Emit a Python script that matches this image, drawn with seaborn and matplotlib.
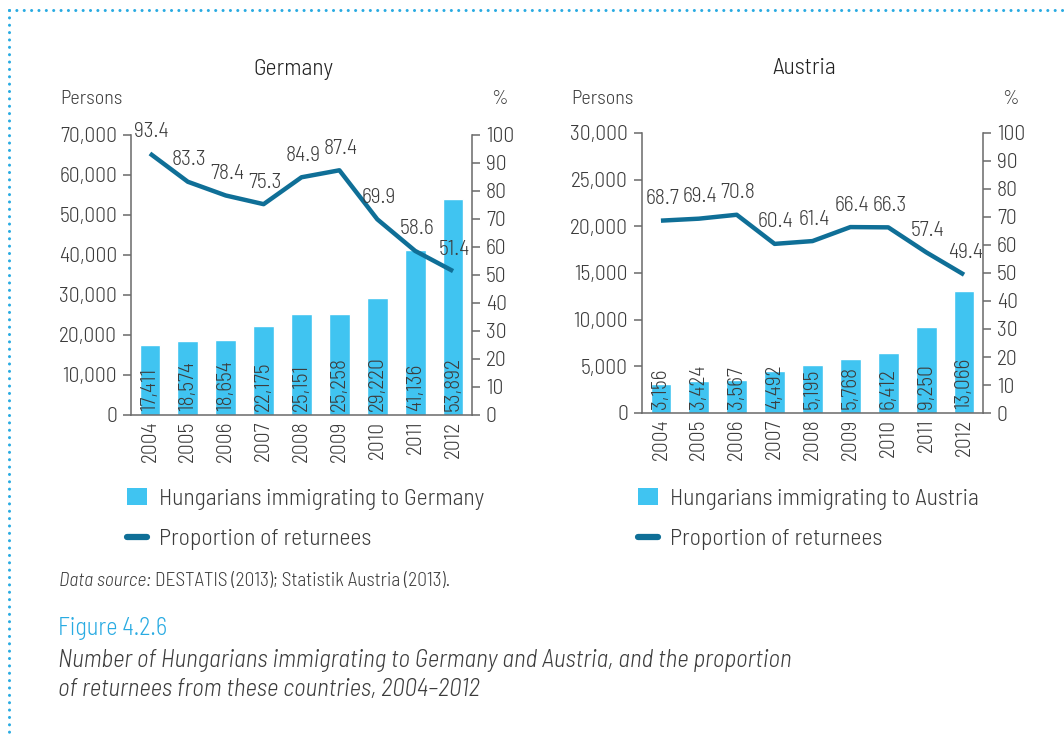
import matplotlib
matplotlib.use("Agg")
import matplotlib.pyplot as plt
from matplotlib.lines import Line2D
from matplotlib.patches import Patch
import numpy as np
import pandas as pd
import seaborn as sns

# ---------------- data ----------------
years = ["2004", "2005", "2006", "2007", "2008", "2009", "2010", "2011", "2012"]
germany_immigrants = [17411, 18574, 18654, 22175, 25151, 25258, 29220, 41136, 53892]
germany_returnees = [93.4, 83.3, 78.4, 75.3, 84.9, 87.4, 69.9, 58.6, 51.4]
austria_immigrants = [3156, 3424, 3567, 4492, 5195, 5768, 6412, 9250, 13066]
austria_returnees = [68.7, 69.4, 70.8, 60.4, 61.4, 66.4, 66.3, 57.4, 49.4]
germany_left_ticks = [0, 10000, 20000, 30000, 40000, 50000, 60000, 70000]
austria_left_ticks = [0, 5000, 10000, 15000, 20000, 25000, 30000]
right_ticks = [0, 10, 20, 30, 40, 50, 60, 70, 80, 90, 100]

# ---------------- style ----------------
sns.set_theme(style="white")
FAM = ["Barlow Semi Condensed", "Roboto Condensed", "Roboto", "DejaVu Sans"]
plt.rcParams["font.family"] = FAM
plt.rcParams["font.weight"] = 300
TXT = "#3c3c3c"
SPINE = "#6a6a6a"
BAR = "#40c4f1"
LINE = "#0f6f97"
BLUE = "#29abe2"

fig = plt.figure(figsize=(10.64, 7.35), dpi=100)
W, H = 1064, 735


def fx(px):
    return px / W


def fy(py):
    return 1 - py / H


def panel(left_px, top_px, bottom_px, title, counts, pct, lticks, country):
    ax = fig.add_axes([fx(left_px), fy(bottom_px), 341 / W, (bottom_px - top_px) / H])
    df = pd.DataFrame({"year": years, "count": counts, "pct": pct})
    sns.barplot(data=df, x="year", y="count", ax=ax, color=BAR, saturation=1,
                width=0.55, zorder=2)
    ax.set_xlim(-0.5, len(years) - 0.5)
    ax.set_ylim(lticks[0], lticks[-1])
    ax.set_yticks(lticks, labels=[f"{t:,}" for t in lticks])
    ax.set_xticks(range(len(years)), labels=years, rotation=90)
    ax.set_xticks(np.arange(-0.5, len(years), 1), minor=True)
    ax.tick_params(axis="x", which="major", length=0, pad=4, labelsize=15.5, colors=TXT)
    ax.tick_params(axis="x", which="minor", length=6, width=1.1, color=SPINE, direction="out")
    ax.tick_params(axis="y", length=6, width=1.1, color=SPINE, direction="out",
                   labelsize=15.5, labelcolor=TXT, left=True, pad=4)
    ax.set_xlabel("")
    ax.set_ylabel("")
    for s in ["top", "right"]:
        ax.spines[s].set_visible(False)
    for s in ["left", "bottom"]:
        ax.spines[s].set_color(SPINE)
        ax.spines[s].set_linewidth(1.1)
    for i, v in enumerate(counts):
        ax.annotate(f"{v:,}", (i, 0), xytext=(0, 3), textcoords="offset points",
                    rotation=90, ha="center", va="bottom", fontsize=15.5, color=TXT, zorder=5)

    ax2 = ax.twinx()
    sns.lineplot(x=np.arange(len(years)), y=pct, ax=ax2, color=LINE, linewidth=3.2,
                 solid_capstyle="butt", zorder=3)
    ax2.set_ylim(0, 100)
    ax2.set_yticks(right_ticks)
    ax2.tick_params(axis="y", length=6, width=1.1, color=SPINE, direction="out",
                    labelsize=15.5, labelcolor=TXT, right=True, pad=4)
    ax2.set_ylabel("")
    for s in ["top", "left", "bottom"]:
        ax2.spines[s].set_visible(False)
    ax2.spines["right"].set_color(SPINE)
    ax2.spines["right"].set_linewidth(1.1)
    for i, p in enumerate(pct):
        ax2.annotate(f"{p}", (i, p), xytext=(1, 9), textcoords="offset points",
                     ha="center", va="bottom", fontsize=15.5, color=TXT)

    ax.text(0.475, 1 + (top_px - 69) / 280, title, transform=ax.transAxes, ha="center",
            va="center", fontsize=17, color="#222222")
    ax.text(-0.208, 1 + (top_px - 99) / 280, "Persons", transform=ax.transAxes, ha="left",
            va="center", fontsize=14.5, color=TXT)
    ax.text(1.08, 1 + (top_px - 99) / 280, "%", transform=ax.transAxes, ha="center",
            va="center", fontsize=14.5, color=TXT)

    handles = [Patch(facecolor=BAR, edgecolor="none"),
               Line2D([], [], color=LINE, linewidth=4.5)]
    labels = [f"Hungarians immigrating to {country}", "Proportion of returnees"]
    fig.legend(handles, labels, loc="upper left",
               bbox_to_anchor=(fx(left_px - 4), fy(488)), frameon=False,
               fontsize=17, labelcolor=TXT, handlelength=0.85, handleheight=0.7,
               handletextpad=0.5, labelspacing=0.8, borderpad=0, borderaxespad=0)
    return ax


panel(131, 135, 415, "Germany", germany_immigrants, germany_returnees,
      germany_left_ticks, "Germany")
panel(642, 133, 413, "Austria", austria_immigrants, austria_returnees,
      austria_left_ticks, "Austria")

# dotted frame
fig.add_artist(Line2D([fx(9), 1.0], [fy(10), fy(10)], transform=fig.transFigure,
                      color=BLUE, linewidth=2.2, linestyle=(0, (0.01, 2.4)),
                      dash_capstyle="round"))
fig.add_artist(Line2D([fx(9), fx(9)], [fy(10), 0.0], transform=fig.transFigure,
                      color=BLUE, linewidth=2.2, linestyle=(0, (0.01, 2.4)),
                      dash_capstyle="round"))

# source and caption
t1 = fig.text(fx(59), fy(581), "Data source:", fontsize=14, style="italic",
              color=TXT, ha="left", va="center")
fig.canvas.draw()
bb = t1.get_window_extent(renderer=fig.canvas.get_renderer())
fig.text(bb.x1 / W + fx(4), fy(581), "DESTATIS (2013); Statistik Austria (2013).",
         fontsize=14, color=TXT, ha="left", va="center")
fig.text(fx(58), fy(628), "Figure 4.2.6", fontsize=17.5, color=BLUE, ha="left", va="center")
fig.text(fx(58), fy(660), "Number of Hungarians immigrating to Germany and Austria, and the proportion",
         fontsize=18, style="italic", color=TXT, ha="left", va="center")
fig.text(fx(58), fy(690), "of returnees from these countries, 2004\u20132012",
         fontsize=18, style="italic", color=TXT, ha="left", va="center")

fig.savefig("out.png", dpi=100)
